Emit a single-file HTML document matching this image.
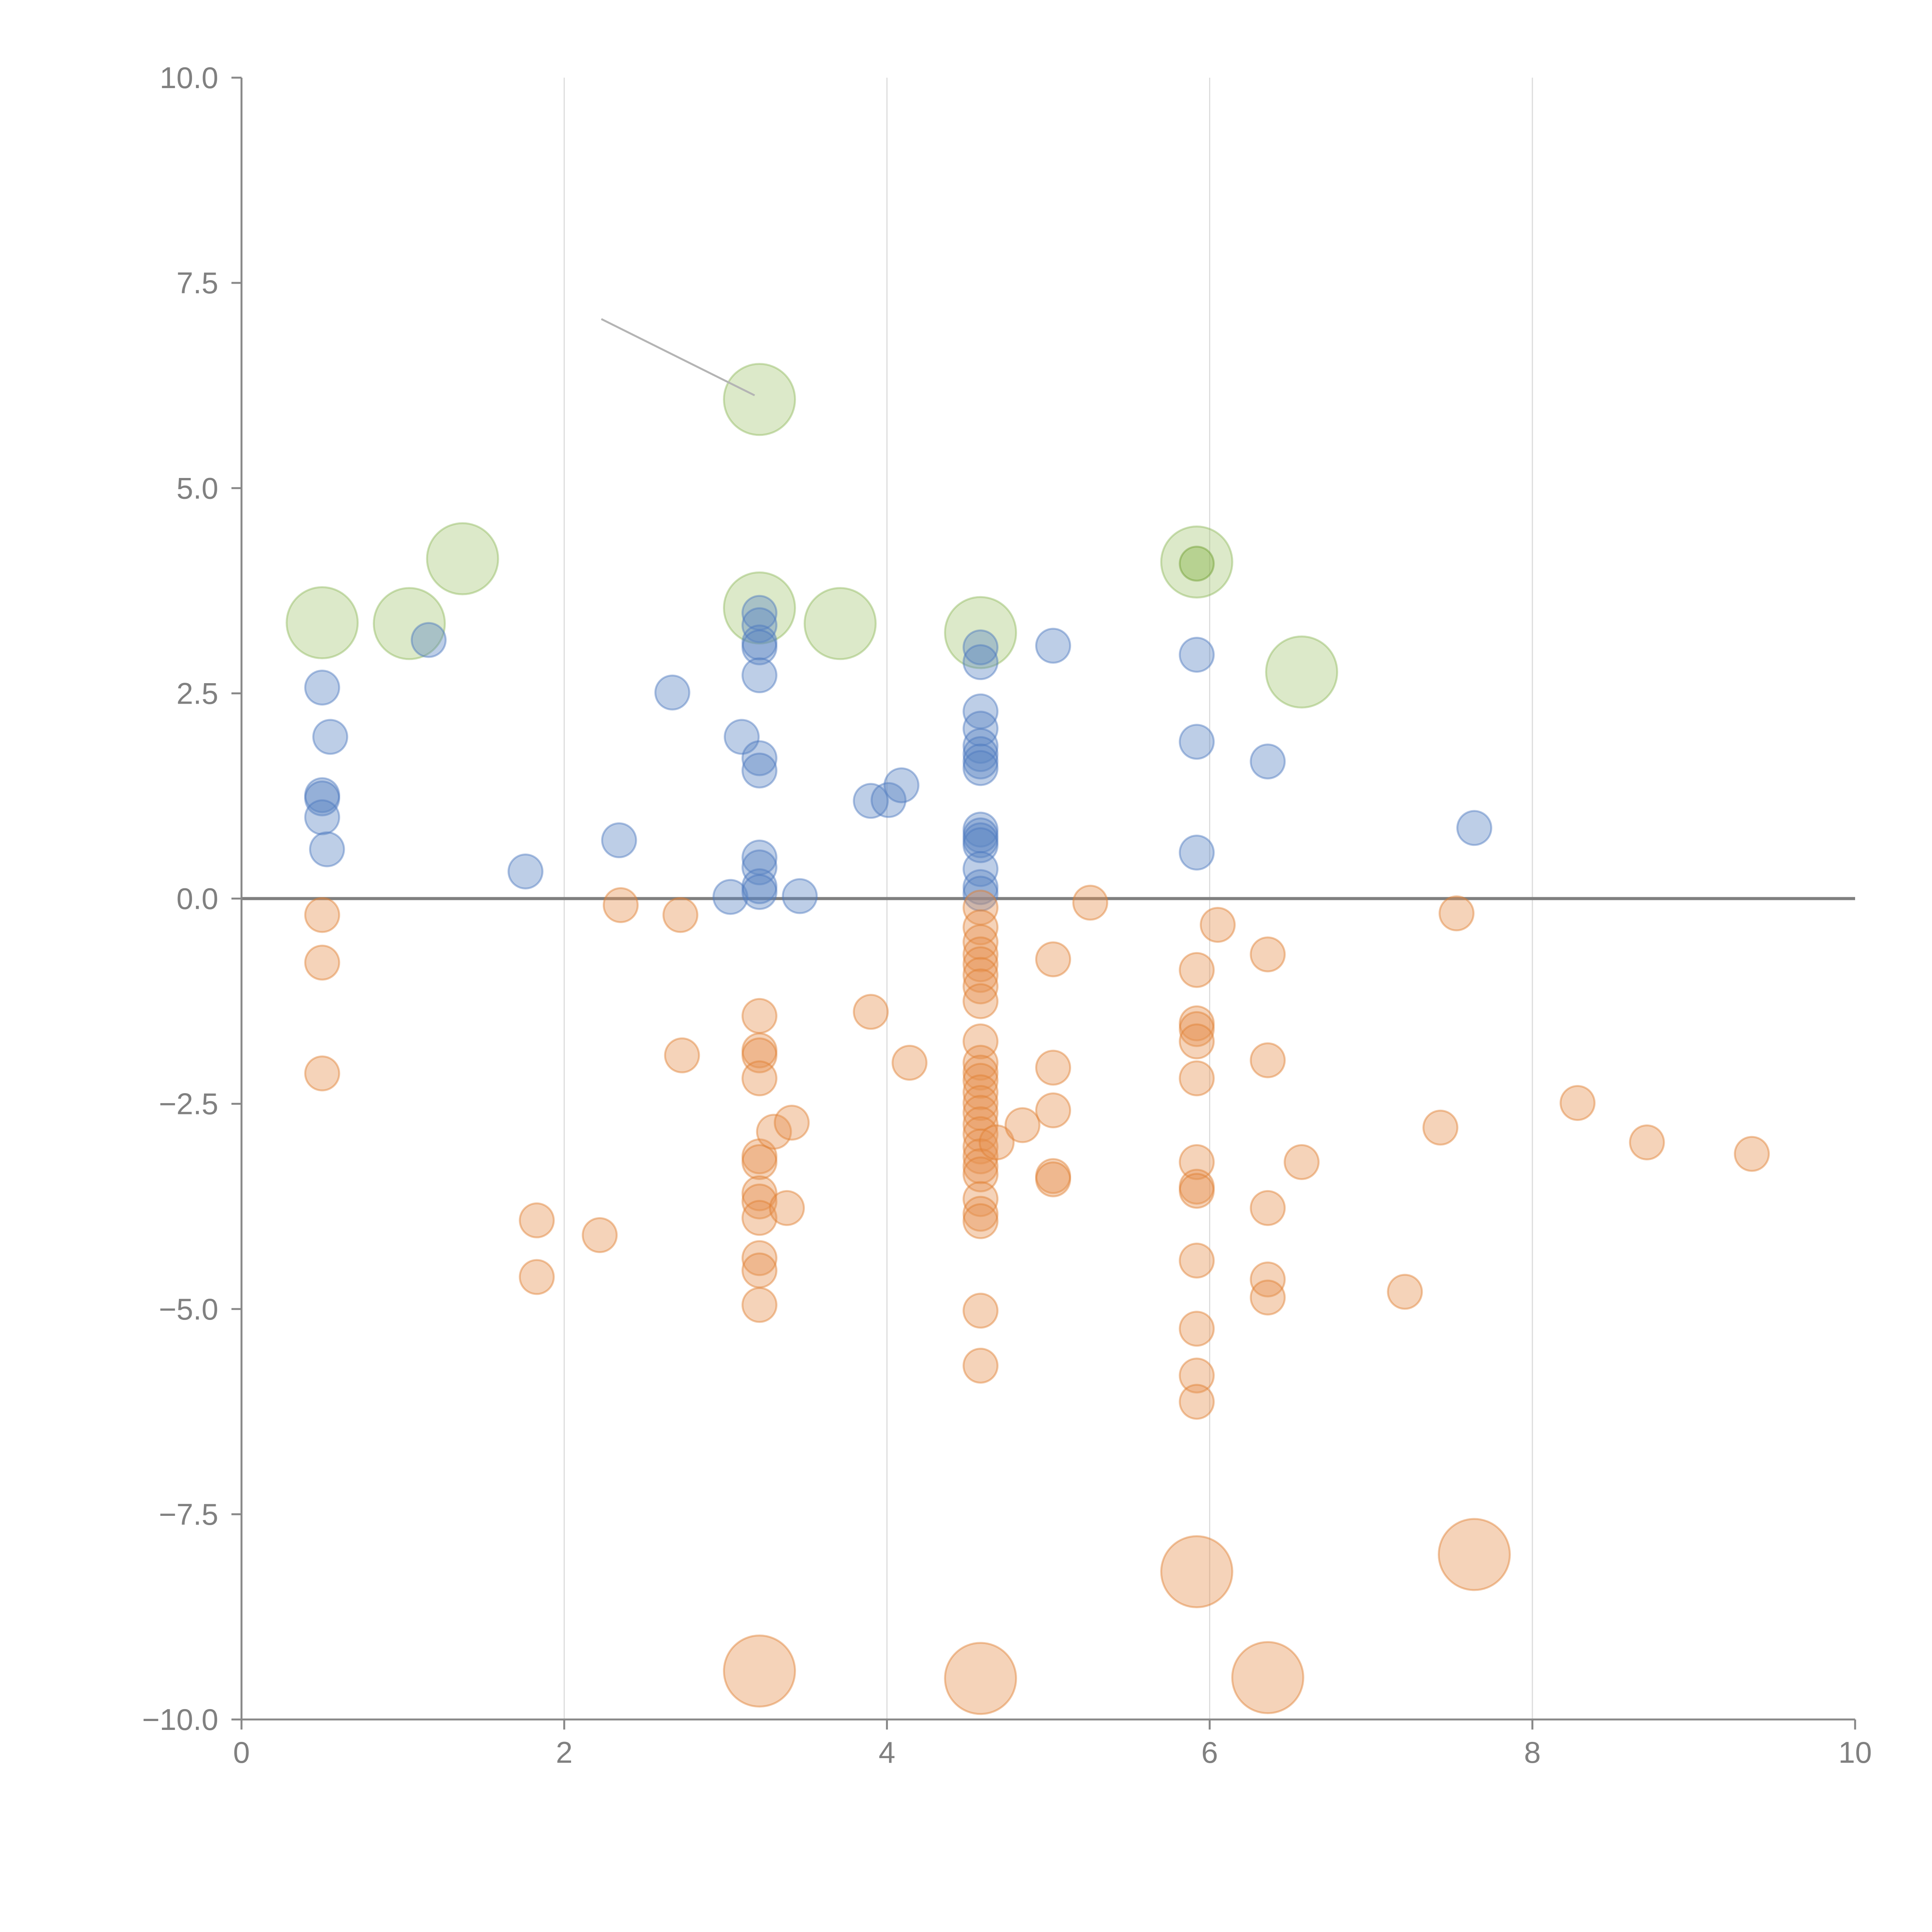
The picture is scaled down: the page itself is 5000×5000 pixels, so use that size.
<!DOCTYPE html>
<html><head><meta charset="utf-8">
<style>html,body{margin:0;padding:0;background:#fff;}svg{display:block;}</style>
</head><body>
<svg id="chart" width="5000" height="5000" viewBox="0 0 5000 5000" xmlns="http://www.w3.org/2000/svg"></svg>
<script>
const xTicks = [0, 2, 4, 6, 8, 10];
const xTickLabels = ["0", "2", "4", "6", "8", "10"];
const yTicks = [10, 7.5, 5, 2.5, 0, -2.5, -5, -7.5, -10];
const yTickLabels = ["10.0", "7.5", "5.0", "2.5", "0.0", "\u22122.5", "\u22125.0", "\u22127.5", "\u221210.0"];

const blueX = [0.50,0.55,0.50,0.50,0.50,0.53,1.16,1.76,2.34,2.67,3.10,3.03,3.21,3.21,3.21,3.21,3.21,3.21,3.21,3.21,3.21,3.21,3.21,3.46,3.90,4.01,4.09,4.58,4.58,4.58,4.58,4.58,4.58,4.58,4.58,4.58,4.58,4.58,4.58,4.58,4.58,4.58,5.03,5.92,5.92,5.92,6.36,7.64];
const blueY = [2.57,1.97,1.26,1.22,0.99,0.60,3.15,0.33,0.71,2.51,1.97,0.02,3.48,3.33,3.12,3.06,2.72,1.71,1.56,0.50,0.38,0.15,0.08,0.03,1.19,1.20,1.38,3.06,2.88,2.28,2.07,1.86,1.76,1.67,1.59,0.84,0.77,0.71,0.65,0.36,0.14,0.06,3.08,2.97,1.91,0.56,1.67,0.86];

const orangeX = [0.50,0.50,0.50,1.83,1.83,2.22,2.35,2.72,2.73,3.21,3.21,3.21,3.21,3.21,3.21,3.21,3.21,3.21,3.21,3.21,3.21,3.30,3.41,3.38,3.90,4.14,4.58,4.58,4.58,4.58,4.58,4.58,4.58,4.58,4.58,4.58,4.58,4.58,4.58,4.58,4.58,4.58,4.58,4.58,4.58,4.58,4.58,4.58,4.58,4.58,4.58,4.58,4.68,4.84,5.03,5.03,5.03,5.03,5.03,5.26,5.92,5.92,5.92,5.92,5.92,5.92,5.92,5.92,5.92,5.92,5.92,5.92,6.05,6.36,6.36,6.36,6.36,6.36,6.57,7.21,7.43,7.53,8.28,8.71,9.36];
const orangeY = [-0.20,-0.78,-2.13,-3.92,-4.61,-4.10,-0.08,-0.20,-1.91,-1.43,-1.85,-1.91,-2.19,-3.14,-3.21,-3.59,-3.69,-3.89,-4.38,-4.53,-4.95,-2.84,-2.73,-3.77,-1.38,-2.00,-0.11,-0.35,-0.53,-0.68,-0.80,-0.93,-1.07,-1.25,-1.74,-2.00,-2.12,-2.22,-2.36,-2.49,-2.61,-2.75,-2.87,-3.02,-3.14,-3.26,-3.36,-3.66,-3.84,-3.93,-5.02,-5.69,-2.97,-2.76,-0.74,-2.06,-2.58,-3.38,-3.42,-0.05,-0.87,-1.52,-1.59,-1.74,-2.19,-3.21,-3.51,-3.56,-4.41,-5.24,-5.81,-6.13,-0.32,-0.68,-1.97,-3.77,-4.64,-4.86,-3.21,-4.79,-2.79,-0.18,-2.49,-2.97,-3.11];

const bigOrangeX = [3.21,4.58,5.92,6.36,7.64];
const bigOrangeY = [-9.41,-9.50,-8.20,-9.49,-7.99];

const greenX = [0.50,1.04,1.37,3.21,3.21,3.71,4.58,5.92,6.57];
const greenY = [3.36,3.35,4.14,6.08,3.54,3.35,3.24,4.10,2.76];

const smallGreenX = [5.92];
const smallGreenY = [4.08];

const NS = "http://www.w3.org/2000/svg";
const svg = document.getElementById("chart");
const X0 = 625, X1 = 4801, Y0 = 4450, Y1 = 201;
function xs(v){ return X0 + (v - 0) / 10 * (X1 - X0); }
function ys(v){ return Y0 - (v + 10) / 20 * (Y0 - Y1); }
function mk(tag, attrs){ const e = document.createElementNS(NS, tag); for (const k in attrs) e.setAttribute(k, attrs[k]); svg.appendChild(e); return e; }

xTicks.forEach((t, i) => {
  if (t === 0 || t === 10) return;
  const g = mk("line", {x1: xs(t), x2: xs(t), y1: Y1, y2: Y0, stroke: "#dcdcdc", "stroke-width": 3});
  
  
});
const z = mk("line", {x1: X0, x2: X1, y1: ys(0), y2: ys(0), stroke: "#7f7f7f", "stroke-width": 8});



const ya = mk("line", {x1: X0, x2: X0, y1: Y1, y2: Y0, stroke: "#888", "stroke-width": 5});


const xa = mk("line", {x1: X0, x2: X1, y1: Y0, y2: Y0, stroke: "#888", "stroke-width": 5});



xTicks.forEach((t, i) => {
  const tk = mk("line", {x1: xs(t), x2: xs(t), y1: Y0, y2: Y0 + 26, stroke: "#888", "stroke-width": 5});
  
  
  const tx = mk("text", {x: xs(t), y: Y0 + 112, "text-anchor": "middle", "font-family": "Liberation Sans, sans-serif", "font-size": 78, fill: "#808080"});
  tx.textContent = xTickLabels[i];
  
  
});
yTicks.forEach((t, i) => {
  const tk = mk("line", {x1: X0 - 26, x2: X0, y1: ys(t), y2: ys(t), stroke: "#888", "stroke-width": 5});
  
  
  const tx = mk("text", {x: X0 - 60, y: ys(t) + 27, "text-anchor": "end", "font-family": "Liberation Sans, sans-serif", "font-size": 78, fill: "#808080"});
  tx.textContent = yTickLabels[i];
  
  
});

function drawSeries(xa, ya, r, fill, stroke, name){
  for (let i = 0; i < xa.length; i++){
    const c = mk("circle", {cx: xs(xa[i]), cy: ys(ya[i]), r: r, fill: fill, "fill-opacity": 0.4, stroke: stroke, "stroke-opacity": 0.45, "stroke-width": 5});
    
    
  }
}
drawSeries(greenX, greenY, 92, "#a8c978", "#8fb85a", "green-bubble");
drawSeries(blueX, blueY, 44, "#5a84c4", "#4c78be", "blue-point");
drawSeries(orangeX, orangeY, 44, "#e5924f", "#e07e30", "orange-point");
drawSeries(bigOrangeX, bigOrangeY, 92, "#e5924f", "#e07e30", "orange-bubble");
drawSeries(smallGreenX, smallGreenY, 44, "#7fae3e", "#6f9e30", "small-green-point");

const ann = mk("line", {x1: xs(2.23), y1: ys(7.06), x2: xs(3.18), y2: ys(6.13), stroke: "#b4b4b4", "stroke-width": 5});


</script>
</body></html>
